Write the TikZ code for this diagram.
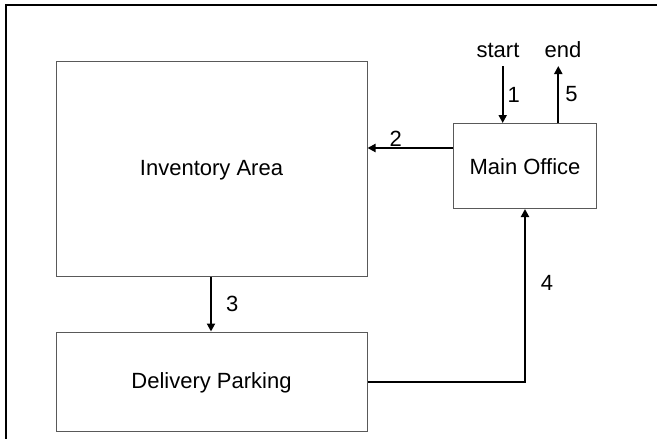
\documentclass[tikz,border=0pt]{standalone}
\usepackage{fontspec}
\setmainfont{Liberation Sans}
\usetikzlibrary{arrows.meta}
\begin{document}
\begin{tikzpicture}[x=1pt,y=-1pt,
  area/.style={draw=black!65, line width=1pt, fill=white, inner sep=0pt},
  lbl/.style={font=\fontsize{22}{26}\selectfont, inner sep=0pt},
  flow/.style={line width=2pt, -{Triangle[length=8pt,width=8pt]}}]
\useasboundingbox (0,0) rectangle (657,439);
\draw[line width=1.3pt] (6,439) -- (6,5) -- (657,5);
\node[area, minimum width=311pt, minimum height=215pt] (inv) at (211.5,169) {};
\node[lbl] at (211.5,170) {Inventory Area};
\node[area, minimum width=311pt, minimum height=99pt] (del) at (211.5,381.5) {};
\node[lbl] at (211.5,383) {Delivery Parking};
\node[area, minimum width=143.5pt, minimum height=85pt] (off) at (525,166) {};
\node[lbl] at (525,167) {Main Office};
\node[lbl] (start) at (498,50) {start};
\node[lbl] (endt) at (563,50) {end};
\coordinate (s1) at (502.7,66);
\coordinate (e5) at (558.3,66);
\draw[flow] (s1) -- (s1 |- off.north) node[lbl, midway, right=4pt] {1};
\draw[flow] (e5 |- off.north) -- (e5) node[lbl, midway, right=6pt] {5};
\draw[flow] (off.west |- 0,148) -- (inv.east |- 0,148) node[lbl, pos=0.67, above=1pt] {2};
\draw[flow] (211,0 |- inv.south) -- (211,0 |- del.north) node[lbl, midway, right=14pt] {3};
\coordinate (c4) at (525,381.5);
\draw[flow] (del.east) -- (c4) -- (off.south);
\node[lbl] at (547,283) {4};
\end{tikzpicture}
\end{document}
